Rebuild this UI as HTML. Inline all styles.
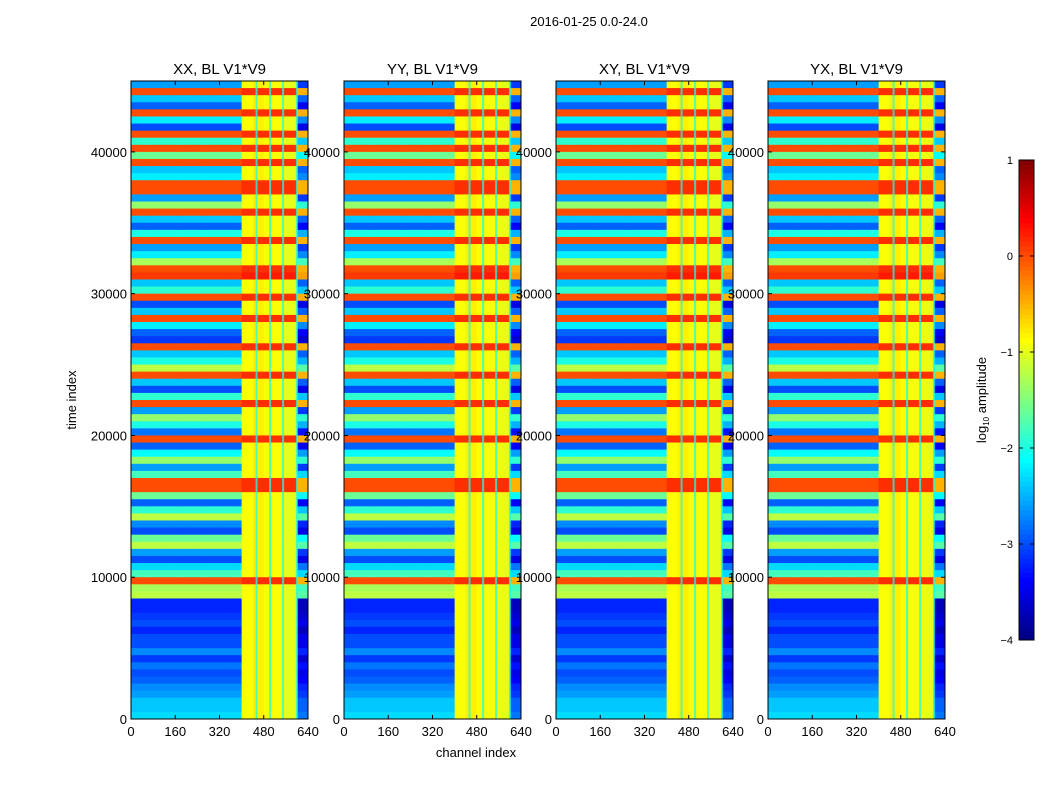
<!DOCTYPE html>
<html><head><meta charset="utf-8"><style>
body{margin:0;background:#fff;}
svg text{font-family:"Liberation Sans",sans-serif;fill:#000;}
</style></head><body>
<svg id="fig" width="1050" height="800" xmlns="http://www.w3.org/2000/svg">
<rect width="1050" height="800" fill="#fff"/>
<text x="589" y="26" font-size="13" text-anchor="middle">2016-01-25 0.0-24.0</text>
<text x="76" y="400" font-size="13" text-anchor="middle" transform="rotate(-90 76 400)">time index</text>
<text x="476" y="757" font-size="13" text-anchor="middle">channel index</text>
<g id="panels"></g>
<g id="cbar"></g>
</svg>
<script>
const panelTitles=["XX, BL V1*V9","YY, BL V1*V9","XY, BL V1*V9","YX, BL V1*V9"];
const panelLefts=[131,344,556,768];
const xTicks=[0,160,320,480,640];
const yTicks=[0,10000,20000,30000,40000];
const cbTicks=[1,0,-1,-2,-3,-4];
// log10 amplitude per 500-sample time bin, top (45000) to bottom (0)
const rowLevels=[-2.6,0,-2.4,-2.9,0,-2.2,-3.0,0,-1.9,0,
-1.6,0,-2.4,-2.2,0,0,-2.6,-1.4,0,-2.4,
-2.9,-2.0,0,-2.6,-2.2,-1.3,0,0.1,-2.4,-1.9,
0,-3.0,-2.4,0,-2.2,-2.9,-3.1,0,-2.4,-2.0,
-1.2,0,-2.4,-3.0,-1.9,0,-2.6,-1.4,-2.0,-2.8,
0,-2.9,-2.1,-1.4,-2.6,-1.8,0,0,-1.6,-2.9,
-1.9,-1.2,-2.7,-3.0,-1.6,-1.2,-2.6,-3.0,-2.3,-1.8,
0,-1.3,-1.2,-3.2,-3.2,-3.1,-3.0,-3.2,-3.0,-3.0,
-2.7,-3.1,-2.8,-3.0,-2.9,-2.7,-2.6,-2.4,-2.4,-2.3];
// per 40-channel group: additive boost and floor
const chanAdd=[0,0,0,0,0,0,0,0,0,0,0.15,0.15,0.15,0.15,0.15,-0.5];
const chanFloor=[-4,-4,-4,-4,-4,-4,-4,-4,-4,-4,-0.9,-0.8,-0.9,-0.9,-1.0,-4];
const dipChannels=[454,503,550,600];
const dipLevel=-2.0;

const NS="http://www.w3.org/2000/svg";
const top0=81, bot=719, pw=177;
const tMax=45000, cMax=640;
function yS(t){return bot-(t/tMax)*(bot-top0);}
function xS(c,l){return l+(c/cMax)*pw;}
function jet(v){
  let f=Math.max(0,Math.min(1,(v+4)/5));
  const cl=x=>Math.max(0,Math.min(1,x));
  const r=cl(1.5-Math.abs(4*f-3)),g=cl(1.5-Math.abs(4*f-2)),b=cl(1.5-Math.abs(4*f-1));
  return `rgb(${Math.round(r*255)},${Math.round(g*255)},${Math.round(b*255)})`;
}
function mk(tag,attrs,parent){const e=document.createElementNS(NS,tag);for(const k in attrs)e.setAttribute(k,attrs[k]);parent.appendChild(e);return e;}
const P=document.getElementById('panels');
const binT=tMax/rowLevels.length, grp=cMax/chanAdd.length;
panelLefts.forEach((L,pi)=>{
  const g=mk('g',{},P);
  
  
  rowLevels.forEach((lv,ri)=>{
    const t1=tMax-ri*binT,t0=t1-binT;
    chanAdd.forEach((a,ci)=>{
      const v=Math.max(lv+a,chanFloor[ci]);
      const r=mk('rect',{x:xS(ci*grp,L),y:yS(t1),width:xS((ci+1)*grp,L)-xS(ci*grp,L)+0.4,height:yS(t0)-yS(t1)+0.4,fill:jet(v)},g);
      
      
    });
  });
  dipChannels.forEach(c=>{
    const r=mk('rect',{x:xS(c,L)-1,y:top0,width:2,height:bot-top0,fill:jet(dipLevel),opacity:0.75},g);
    
    
  });
  const fr=mk('rect',{x:L,y:top0,width:pw,height:bot-top0,fill:'none',stroke:'#000','stroke-width':1},g);
  
  
  const tt=mk('text',{x:L+pw/2,y:74,'font-size':15,'text-anchor':'middle'},g);tt.textContent=panelTitles[pi];
  
  
  xTicks.forEach(c=>{
    const x=xS(c,L);
    mk('line',{x1:x,x2:x,y1:bot,y2:bot-4,stroke:'#000'},g);
    mk('line',{x1:x,x2:x,y1:top0,y2:top0+4,stroke:'#000'},g);
    const tx=mk('text',{x:x,y:bot+17,'font-size':13,'text-anchor':'middle'},g);tx.textContent=c;
    
    
  });
  yTicks.forEach(t=>{
    const y=yS(t);
    mk('line',{x1:L,x2:L+4,y1:y,y2:y,stroke:'#000'},g);
    mk('line',{x1:L+pw,x2:L+pw-4,y1:y,y2:y,stroke:'#000'},g);
    const tx=mk('text',{x:L-4,y:y+5,'font-size':13,'text-anchor':'end'},g);tx.textContent=t;
    
    
  });
});
const C=document.getElementById('cbar');


const cbT=160,cbB=640,cbL=1019,cbW=15;
function cy(v){return cbB-(v+4)/5*(cbB-cbT);}
for(let i=0;i<100;i++){
  const v0=-4+i*0.05;
  mk('rect',{x:cbL,y:cy(v0+0.05),width:cbW,height:cy(v0)-cy(v0+0.05)+0.5,fill:jet(v0+0.025)},C);
}
mk('rect',{x:cbL,y:cbT,width:cbW,height:cbB-cbT,fill:'none',stroke:'#000'},C);
cbTicks.forEach(v=>{
  const y=cy(v);
  mk('line',{x1:cbL,x2:cbL+4,y1:y,y2:y,stroke:'#000'},C);
  mk('line',{x1:cbL+cbW,x2:cbL+cbW-4,y1:y,y2:y,stroke:'#000'},C);
  const t=mk('text',{x:1013,y:y+4,'font-size':11,'text-anchor':'end'},C);t.textContent=(v<0?'\u2212'+(-v):v);
  
  
});
const lab=mk('text',{x:986,y:400,'font-size':13,'text-anchor':'middle',transform:'rotate(-90 986 400)'},C);
lab.innerHTML='log<tspan font-size="8" dy="3">10</tspan><tspan dy="-3"> amplitude</tspan>';


</script>
</body></html>
